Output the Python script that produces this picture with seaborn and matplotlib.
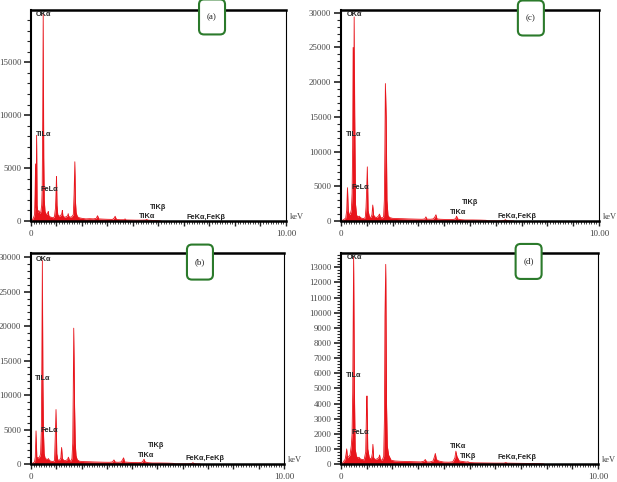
import numpy as np
import pandas as pd
import matplotlib
matplotlib.use('Agg')
import matplotlib.pyplot as plt
import seaborn as sns
from matplotlib.patches import FancyBboxPatch
from matplotlib.ticker import MultipleLocator, FixedLocator, FixedFormatter

# EDS spectra (energy in keV, counts)
energy_a = [0.00, 0.05, 0.10, 0.14, 0.16, 0.18, 0.20, 0.22, 0.24, 0.27, 0.31, 0.35, 0.39, 0.42,
            0.44, 0.46, 0.48, 0.50, 0.52, 0.55, 0.58, 0.62, 0.66, 0.68, 0.70, 0.74, 0.80, 0.86,
            0.92, 0.96, 0.98, 1.00, 1.02, 1.05, 1.10, 1.16, 1.21, 1.23, 1.25, 1.29, 1.32, 1.38,
            1.44, 1.46, 1.48, 1.53, 1.60, 1.66, 1.69, 1.72, 1.74, 1.77, 1.82, 1.90, 2.00, 2.15,
            2.30, 2.45, 2.56, 2.61, 2.66, 2.80, 3.00, 3.20, 3.27, 3.30, 3.35, 3.50, 3.65, 3.69,
            3.73, 3.90, 4.10, 4.30, 4.50, 4.54, 4.58, 4.80, 5.00, 5.10]
counts_a = [0, 100, 300, 600, 2500, 5400, 1200, 8100, 1500, 800, 1000, 700, 900, 1500,
            3000, 9700, 19600, 6000, 2000, 900, 700, 600, 800, 900, 500, 400, 350, 300,
            400, 1200, 2500, 4200, 1500, 600, 450, 500, 700, 1000, 500, 400, 350, 400,
            500, 700, 450, 350, 400, 600, 2500, 5600, 2000, 800, 400, 300, 250, 200,
            220, 200, 250, 500, 200, 180, 160, 150, 300, 450, 150, 120, 120, 200,
            100, 90, 80, 80, 90, 150, 80, 50, 30, 0]

energy_c = [0.00, 0.08, 0.14, 0.18, 0.22, 0.25, 0.28, 0.32, 0.36, 0.40, 0.43, 0.45, 0.47, 0.49,
            0.51, 0.53, 0.56, 0.60, 0.64, 0.68, 0.71, 0.75, 0.80, 0.88, 0.94, 0.97, 0.99, 1.02,
            1.05, 1.10, 1.16, 1.20, 1.23, 1.26, 1.30, 1.38, 1.45, 1.49, 1.53, 1.60, 1.65, 1.68,
            1.70, 1.72, 1.75, 1.78, 1.82, 1.88, 2.00, 2.20, 2.40, 2.60, 2.80, 3.00, 3.15, 3.25,
            3.29, 3.33, 3.45, 3.58, 3.64, 3.68, 3.72, 3.85, 4.05, 4.25, 4.40, 4.45, 4.48, 4.52,
            4.62, 4.80, 5.10, 5.40, 5.62, 5.70, 6.20, 6.33, 6.37, 6.41, 6.55, 6.70]
counts_c = [0, 150, 300, 400, 1500, 4800, 1500, 900, 1000, 1600, 4000, 10500, 25000, 13000,
            29400, 15500, 2500, 900, 600, 650, 700, 500, 400, 350, 500, 2000, 4000, 7800,
            1500, 600, 500, 900, 2300, 900, 600, 500, 700, 1000, 500, 450, 600, 3000,
            10500, 19800, 15000, 3000, 800, 500, 380, 350, 330, 300, 280, 260, 250, 300,
            600, 280, 250, 300, 600, 900, 300, 250, 220, 200, 250, 400, 700, 300,
            200, 150, 150, 130, 100, 30, 20, 60, 200, 60, 20, 0]

energy_b = [0.00, 0.08, 0.14, 0.17, 0.20, 0.23, 0.27, 0.31, 0.35, 0.38, 0.41, 0.43, 0.45, 0.47,
            0.49, 0.52, 0.56, 0.62, 0.66, 0.69, 0.73, 0.80, 0.88, 0.93, 0.96, 0.99, 1.02, 1.06,
            1.12, 1.18, 1.21, 1.24, 1.30, 1.38, 1.45, 1.48, 1.52, 1.58, 1.62, 1.65, 1.67, 1.69,
            1.72, 1.75, 1.78, 1.83, 1.92, 2.10, 2.30, 2.50, 2.70, 2.90, 3.10, 3.22, 3.28, 3.33,
            3.45, 3.56, 3.62, 3.66, 3.70, 3.85, 4.05, 4.25, 4.38, 4.43, 4.47, 4.51, 4.62, 4.80,
            5.10, 5.40, 5.62, 5.70, 6.20, 6.35, 6.40, 6.45, 6.55, 6.70]
counts_b = [0, 150, 300, 1000, 4800, 1000, 900, 900, 1100, 1500, 5000, 15000, 29500, 12000,
            5000, 1500, 800, 700, 650, 800, 500, 400, 350, 500, 4000, 7900, 1500, 600,
            500, 900, 2400, 800, 500, 500, 700, 1000, 500, 450, 800, 3000, 10000, 19700,
            9000, 3000, 1200, 600, 400, 350, 330, 300, 280, 260, 250, 300, 600, 280,
            250, 300, 600, 900, 300, 250, 220, 200, 250, 450, 700, 300, 200, 150,
            150, 130, 100, 30, 20, 60, 200, 60, 20, 0]

energy_d = [0.00, 0.08, 0.13, 0.16, 0.20, 0.22, 0.25, 0.30, 0.35, 0.40, 0.43, 0.455, 0.49, 0.52,
            0.55, 0.60, 0.66, 0.70, 0.74, 0.81, 0.90, 0.96, 0.99, 1.01, 1.04, 1.10, 1.18, 1.22,
            1.24, 1.27, 1.33, 1.42, 1.48, 1.50, 1.53, 1.60, 1.66, 1.69, 1.71, 1.74, 1.77, 1.80,
            1.85, 1.95, 2.10, 2.30, 2.50, 2.70, 2.90, 3.10, 3.22, 3.28, 3.33, 3.45, 3.58, 3.64,
            3.67, 3.71, 3.80, 4.00, 4.20, 4.35, 4.43, 4.47, 4.51, 4.60, 4.88, 4.94, 5.00, 5.20,
            5.60, 6.00, 6.35, 6.41, 6.47, 6.80, 7.20, 7.50, 7.80, 7.90]
counts_d = [0, 100, 250, 300, 700, 1000, 400, 500, 600, 1200, 2000, 4700, 13700, 5000,
            1000, 500, 400, 450, 350, 300, 280, 800, 3500, 4500, 1000, 400, 350, 700,
            1300, 400, 300, 350, 450, 600, 300, 250, 500, 3000, 9800, 13200, 4000, 1200,
            600, 250, 200, 180, 170, 160, 150, 140, 180, 300, 140, 130, 200, 500,
            700, 300, 200, 130, 120, 150, 400, 850, 500, 200, 130, 150, 100, 80,
            70, 60, 60, 100, 60, 50, 40, 30, 20, 0]

# peak labels and where they sit in each panel (keV, counts)
peak_names = ['OKα', 'TiLα', 'FeLα', 'TiKβ', 'TiKα', 'FeKα,FeKβ']
label_x_a = [0.20, 0.18, 0.38, 4.67, 4.25, 6.08]
label_y_a = [19500, 8160, 3000, 1300, 410, 350]
label_x_c = [0.22, 0.19, 0.39, 4.68, 4.22, 6.07]
label_y_c = [29700, 12400, 4770, 2600, 1250, 630]
label_x_b = [0.20, 0.16, 0.36, 4.64, 4.21, 6.09]
label_y_b = [29650, 12460, 4830, 2700, 1260, 770]
label_x_d = [0.22, 0.19, 0.39, 4.64, 4.25, 6.07]
label_y_d = [13680, 5880, 2110, 470, 1180, 400]

panel_tags = ['(a)', '(c)', '(b)', '(d)']

sns.set_style('ticks')
plt.rcParams['font.family'] = ['Liberation Serif', 'DejaVu Serif']

red = '#e8141b'
green = '#2b7a2b'
fig = plt.figure(figsize=(6.17, 4.82), dpi=100)

panels = [
    dict(rect=[0.0502, 0.5415, 0.4133, 0.4378], e=energy_a, c=counts_a, lx=label_x_a, ly=label_y_a,
         ymax=19950, major=5000, minor=1000, tag=panel_tags[0], box=(0.710, 0.967)),
    dict(rect=[0.5527, 0.5415, 0.4181, 0.4378], e=energy_c, c=counts_c, lx=label_x_c, ly=label_y_c,
         ymax=30400, major=5000, minor=1000, tag=panel_tags[1], box=(0.736, 0.962)),
    dict(rect=[0.0502, 0.0373, 0.4100, 0.4378], e=energy_b, c=counts_b, lx=label_x_b, ly=label_y_b,
         ymax=30600, major=5000, minor=1000, tag=panel_tags[2], box=(0.668, 0.957)),
    dict(rect=[0.5527, 0.0373, 0.4165, 0.4378], e=energy_d, c=counts_d, lx=label_x_d, ly=label_y_d,
         ymax=13950, major=1000, minor=200, tag=panel_tags[3], box=(0.730, 0.960)),
]

for p in panels:
    ax = fig.add_axes(p['rect'])
    df = pd.DataFrame({'keV': p['e'], 'counts': p['c']})
    ax.fill_between(df['keV'], df['counts'], color=red, lw=0)
    sns.lineplot(data=df, x='keV', y='counts', ax=ax, color=red, lw=0.6, estimator=None)

    ax.set_xlim(0, 10)
    ax.set_ylim(0, p['ymax'])
    ax.set_xlabel('')
    ax.set_ylabel('')

    ax.xaxis.set_major_locator(FixedLocator(list(range(11))))
    ax.xaxis.set_major_formatter(FixedFormatter(['0'] + [''] * 9 + ['10.00']))
    ax.xaxis.set_minor_locator(MultipleLocator(0.1))
    ax.yaxis.set_major_locator(MultipleLocator(p['major']))
    ax.yaxis.set_minor_locator(MultipleLocator(p['minor']))

    ax.tick_params(axis='x', which='major', length=3.5, width=1, pad=3, labelsize=6.5, colors='#222')
    ax.tick_params(axis='x', which='minor', length=2, width=0.6)
    ax.tick_params(axis='y', which='major', length=5, width=1.2, pad=2, labelsize=6.3, colors='#222')
    ax.tick_params(axis='y', which='minor', length=3, width=0.8)
    for lab in ax.get_yticklabels():
        lab.set_color('#444')
    for lab in ax.get_xticklabels():
        lab.set_color('#444')

    for side, lw in [('top', 1.8), ('bottom', 1.8), ('left', 1.5), ('right', 0.8)]:
        ax.spines[side].set_visible(True)
        ax.spines[side].set_linewidth(lw)
        ax.spines[side].set_color('black')

    for name, x, y in zip(peak_names, p['lx'], p['ly']):
        ax.text(x, y, name, fontsize=5.3, fontweight='bold', va='center', ha='left',
                family=['Liberation Sans Narrow', 'Liberation Sans', 'DejaVu Sans'])

    ax.text(1.014, 0.02, 'keV', transform=ax.transAxes, fontsize=6, color='#444',
            va='center', ha='left')

    # rounded tag box sitting on the top border
    axw = p['rect'][2] * 617
    axh = p['rect'][3] * 482
    bw, bh = 26 / axw, 35 / axh
    cx, cy = p['box']
    r = 5 / axw
    box = FancyBboxPatch((cx - bw / 2, cy - bh / 2), bw, bh,
                         boxstyle='round,pad=0,rounding_size=%f' % r,
                         mutation_aspect=axw / axh, transform=ax.transAxes,
                         facecolor='white', edgecolor=green, lw=1.5, clip_on=False, zorder=5)
    ax.add_patch(box)
    ax.text(cx, cy, p['tag'], transform=ax.transAxes, fontsize=6.5, ha='center', va='center',
            color='#222', zorder=6)

fig.savefig('out.png', dpi=100)
